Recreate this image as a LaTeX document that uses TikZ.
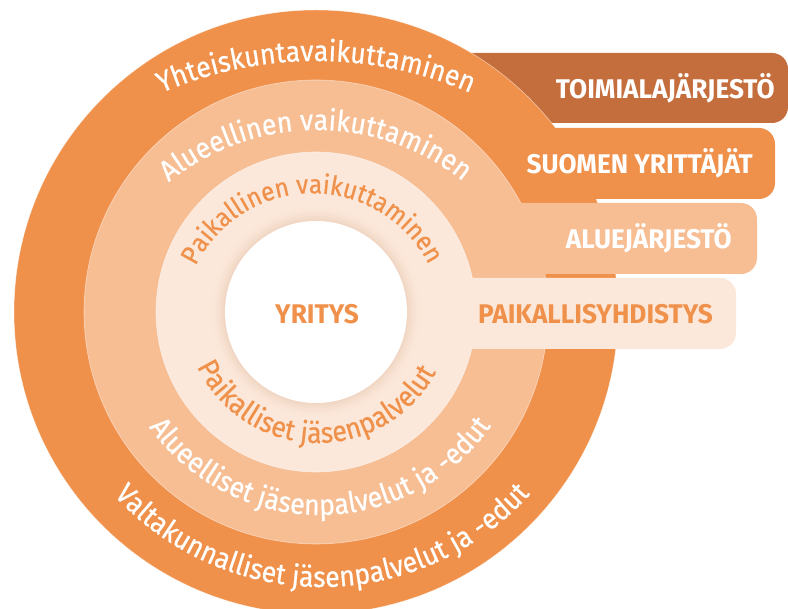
\documentclass[tikz,border=0pt]{standalone}
\usepackage{fontspec}
\setmainfont{Fira Sans}
\newfontfamily\curvefont{Fira Sans}[FakeStretch=0.92, FakeBold=0.6]
\newfontfamily\labelfont{Fira Sans}[FakeStretch=0.97]
\usetikzlibrary{decorations.text}
\definecolor{ringA}{HTML}{F0914B}
\definecolor{ringB}{HTML}{F7BE94}
\definecolor{ringC}{HTML}{FCE8DA}
\definecolor{bandD}{HTML}{C56E3D}
\definecolor{shadowC}{HTML}{EDD0BC}
\begin{document}
\begin{tikzpicture}[x=1pt,y=1pt,
  ringedge/.style={draw=white, draw opacity=0.5, line width=0.6pt},
  bandbox/.style={rounded corners=16pt},
  bandlabel/.style={font=\labelfont\fontsize{27}{27}\selectfont\bfseries, anchor=base east, inner sep=0pt},
  curvetext/.style={decorate, decoration={text along path, text align=center, text color=#1}}
]
\useasboundingbox (-316,-297) rectangle (472,312);
\clip (-316,-297) rectangle (472,312);
% dark band behind
\fill[bandD, bandbox] (-20,189) rectangle (472,259);
% outer ring + band
\fill[ringA] (0,0) circle (302);
\draw[ringedge] (0,0) circle (302);
\fill[ringA, bandbox] (0,113) rectangle (459,184);
% middle ring + band
\fill[ringB] (0,0) circle (232);
\draw[ringedge] (0,0) circle (232);
\fill[ringB, bandbox] (0,38) rectangle (441,109);
% inner ring + band
\fill[ringC] (0,0) circle (160);
\draw[ringedge] (0,0) circle (160);
\fill[ringC, bandbox] (0,-37) rectangle (420,34);
% soft shadow around the centre
\foreach \r/\p in {104/6,102/14,100/24,98/34,96/46,94/60,92.5/75}
  \fill[shadowC!\p!ringC] (0,0) circle (\r);
\fill[white] (0,0) circle (91);
% band labels
\node[bandlabel, text=white] (l1) at (459,213) {TOIMIALAJÄRJESTÖ};
\node[bandlabel, text=white] (l2) at (437,138.7) {SUOMEN YRITTÄJÄT};
\node[bandlabel, text=white] (l3) at (416,63) {ALUEJÄRJESTÖ};
\node[bandlabel, text=ringA] (l4) at (397,-12) {PAIKALLISYHDISTYS};
\node[font=\labelfont\fontsize{27}{27}\selectfont\bfseries, text=ringA, anchor=base, inner sep=0pt] (yr) at (1,-11.3) {YRITYS};
% curved texts
\path[curvetext=white, decoration={text={|\curvefont\fontsize{29}{29}\selectfont|Yhteiskuntavaikuttaminen}}]
  ([shift={(0,-138)}]130:389) arc[start angle=130, end angle=50, radius=389];
\path[curvetext=white, decoration={text={|\curvefont\fontsize{29}{29}\selectfont|Alueellinen vaikuttaminen}}]
  ([shift={(0.5,-53)}]145.2:235) arc[start angle=145.2, end angle=35.2, radius=235];
\path[curvetext=ringA, decoration={text={|\curvefont\fontsize{26.5}{26.5}\selectfont|Paikallinen vaikuttaminen}}]
  ([shift={(-3.5,-11.6)}]180.35:130.3) arc[start angle=180.35, end angle=0.35, radius=130.3];
\path[curvetext=ringA, decoration={text={|\curvefont\fontsize{29}{29}\selectfont|Paikalliset jäsenpalvelut}}]
  ([shift={(2,3)}]178.65:134) arc[start angle=178.65, end angle=358.65, radius=134];
\path[curvetext=white, decoration={text={|\curvefont\fontsize{29}{29}\selectfont|Alueelliset jäsenpalvelut ja -edut}}]
  ([shift={(3.75,6.6)}]190.2:209.6) arc[start angle=190.2, end angle=350.2, radius=209.6];
\path[curvetext=white, decoration={text={|\curvefont\fontsize{29}{29}\selectfont|Valtakunnalliset jäsenpalvelut ja -edut}}]
  ([shift={(5.7,6)}]200.15:281) arc[start angle=200.15, end angle=340.15, radius=281];
\end{tikzpicture}
\end{document}
